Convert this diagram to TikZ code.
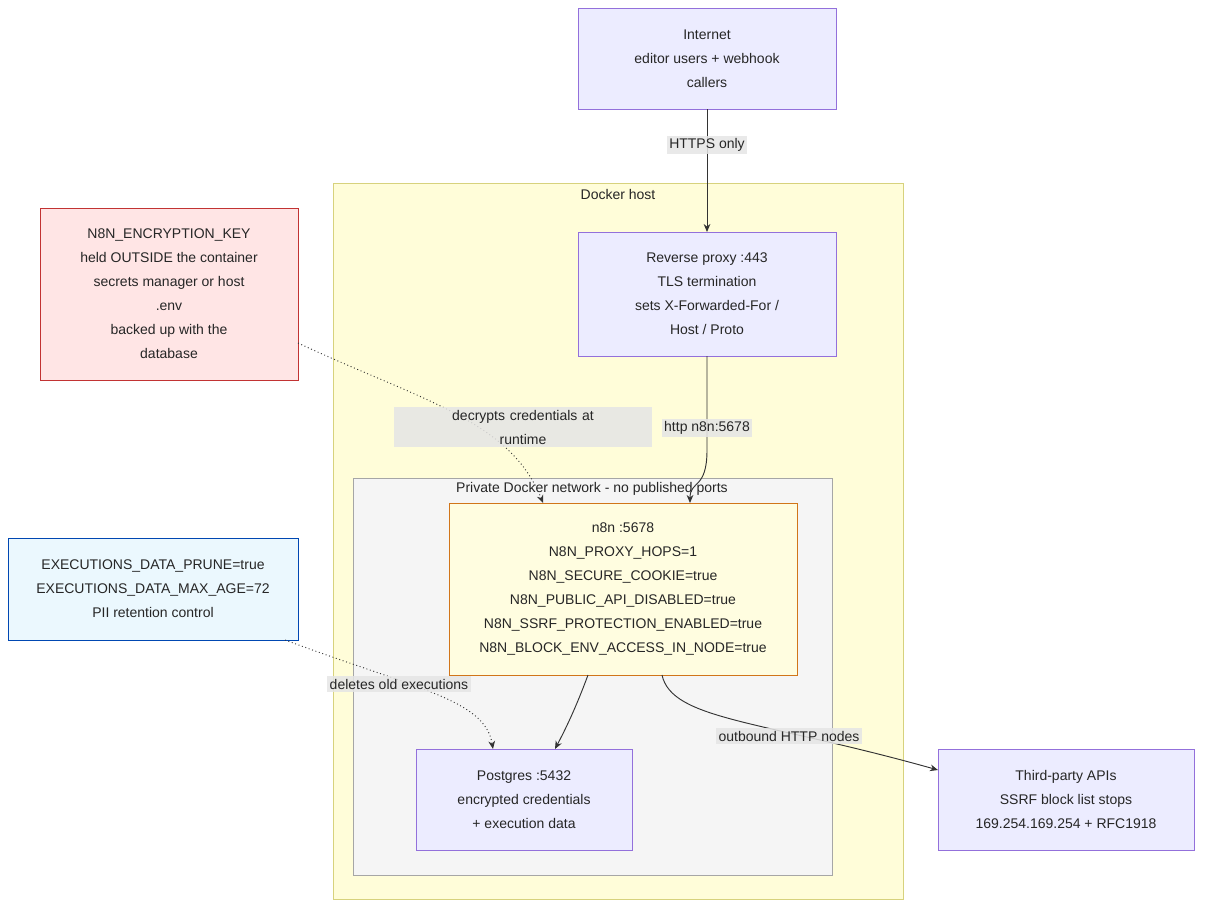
\documentclass[tikz,border=0pt]{standalone}
\usepackage{fontspec}
\setmainfont{Liberation Sans}
\usetikzlibrary{arrows.meta}
\definecolor{bx}{HTML}{ECECFF}
\definecolor{bxd}{HTML}{9370DB}
\tikzset{
 x=0.75pt,y=-0.75pt,
 every node/.style={font=\fontsize{10.5}{18}\selectfont,align=center,text=black!85},
 box/.style={draw=bxd,fill=bx,line width=0.7pt},
 grp/.style={draw=#1,line width=0.7pt},
 edge/.style={draw=black!80,line width=0.7pt,-{Stealth[length=6pt,width=5pt]}},
 dotedge/.style={edge,dotted},
 lbl/.style={fill=black!10,fill opacity=0.85,text opacity=1,inner sep=2pt},
}
\begin{document}
\begin{tikzpicture}
\useasboundingbox (0,0) rectangle (1210,914);
% groups
\draw[grp=black!30!yellow!60,fill=yellow!15] (333,183) rectangle (903,899);
\node at (618,194) {Docker host};
\draw[grp=black!35,fill=black!4] (353,478) rectangle (832,875);
\node at (592,489) {Private Docker network - no published ports};
% nodes
\draw[box] (578,8) rectangle (836,109);
\node (inet) at (707,58.5) {Internet\\editor users + webhook\\callers};
\coordinate (inetB) at (707,109);
\draw[box] (578,232) rectangle (836,356);
\node (proxy) at (707,294) {Reverse proxy :443\\TLS termination\\sets X-Forwarded-For /\\Host / Proto};
\coordinate (proxyT) at (707,232);
\coordinate (proxyB) at (707,356);
\draw[draw=orange!80!black!90,fill=orange!10!yellow!12,line width=0.7pt] (449,503) rectangle (797,675);
\node (n8n) at (623,589) {n8n :5678\\N8N\_PROXY\_HOPS=1\\N8N\_SECURE\_COOKIE=true\\N8N\_PUBLIC\_API\_DISABLED=true\\N8N\_SSRF\_PROTECTION\_ENABLED=true\\N8N\_BLOCK\_ENV\_ACCESS\_IN\_NODE=true};
\draw[box] (416,749) rectangle (632,850);
\node (pg) at (524,799.5) {Postgres :5432\\encrypted credentials\\+ execution data};
\draw[box] (938,749) rectangle (1194,850);
\node (api) at (1066,799.5) {Third-party APIs\\SSRF block list stops\\169.254.169.254 + RFC1918};
\draw[draw=red!70!black!80,fill=red!10,line width=0.7pt] (40,208) rectangle (298,380);
\node (key) at (169,294) {N8N\_ENCRYPTION\_KEY\\held OUTSIDE the container\\secrets manager or host\\.env\\backed up with the\\database};
\draw[draw=blue!60!cyan!70!black,fill=cyan!8,line width=0.7pt] (8,538) rectangle (298,640);
\node (ex) at (153,589) {EXECUTIONS\_DATA\_PRUNE=true\\EXECUTIONS\_DATA\_MAX\_AGE=72\\PII retention control};
% edges
\draw[edge] (inetB) -- (proxyT);
\node[lbl] at (707,145) {HTTPS only};
\draw[edge] (proxyB) -- (707,450) .. controls (707,490) and (690,480) .. (690,503);
\node[lbl] at (707,428) {http n8n:5678};
\draw[dotedge] (298,343) .. controls (420,400) and (510,420) .. (543,503);
\node[lbl,text width=190pt] at (523,427) {decrypts credentials at\\runtime};
\draw[dotedge] (285,640) .. controls (420,690) and (485,700) .. (493,749);
\node[lbl] at (399,684) {deletes old executions};
\draw[edge] (588,675) .. controls (575,710) and (565,730) .. (555,749);
\draw[edge] (662,675) .. controls (672,720) and (760,720) .. (938,770);
\node[lbl] at (789,736) {outbound HTTP nodes};
\end{tikzpicture}
\end{document}
